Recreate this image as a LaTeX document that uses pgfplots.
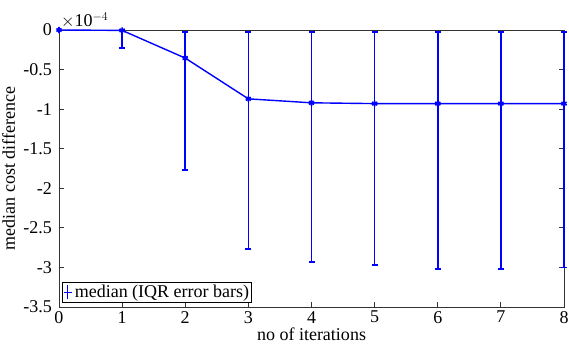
\documentclass[border=0pt]{standalone}
\usepackage{fontspec}
\setmainfont{Liberation Serif}
\usepackage{pgfplots}
\pgfplotsset{compat=1.18}
\definecolor{mblue}{RGB}{0,0,255}
\begin{document}
\fontsize{18}{21}\selectfont
\begin{tikzpicture}
\begin{axis}[
  name=ax,
  scale only axis,
  width=505pt, height=277pt,
  xmin=0, xmax=8, ymin=-3.5, ymax=0,
  xtick={0,1,2,3,4,5,6,7,8},
  ytick={-3.5,-3,-2.5,-2,-1.5,-1,-0.5,0},
  yticklabels={-3.5,-3,-2.5,-2,-1.5,-1,-0.5,0},
  xticklabels={0,1,2,3,4,5,6,7,8},
  tick align=inside,
  tick pos=both,
  major tick length=5pt,
  axis line style={black!80, line width=0.8pt},
  every tick/.style={black!80, line width=0.8pt},
  xlabel={no of iterations},
  ylabel={median cost difference},
  xlabel style={yshift=8pt},
  ylabel style={yshift=-4pt},
  xticklabel style={yshift=2pt},
  yticklabel style={xshift=-1pt},
  tick label style={font=\fontsize{18}{21}\selectfont},
  label style={font=\fontsize{18}{21}\selectfont},
  legend style={draw=black, line width=0.8pt, inner sep=0.5pt, font=\fontsize{18}{21}\selectfont, at={(0.006,0.015)}, anchor=south west, legend cell align=left},
  unbounded coords=jump,
  clip=false,
]
% IQR error bars (upper and lower quartile differences), one segment per iteration
\addplot[forget plot, draw=mblue, line width=1.7pt, mark=-, mark size=3pt,
  mark options={draw=mblue, line width=1.5pt}]
  coordinates {
  (1,0) (1,-0.23) (nan,nan)
  (2,-0.025) (2,-1.77) (nan,nan)
  (3,-0.025) (3,-2.77) (nan,nan)
  (4,-0.025) (4,-2.93) (nan,nan)
  (5,-0.025) (5,-2.97) (nan,nan)
  (6,-0.025) (6,-3.02) (nan,nan)
  (7,-0.025) (7,-3.02) (nan,nan)
  (8,-0.025) (8,-3.00)
  };
\addplot[draw=mblue, line width=1.4pt, mark=asterisk, mark size=3pt,
  mark options={draw=mblue, line width=1.7pt},
  legend image code/.code={
    \draw[mblue, line width=1.3pt] (0cm,0cm) -- (0.3cm,0cm);
    \draw[mblue, line width=1.3pt] (0.15cm,-0.25cm) -- (0.15cm,0.25cm);
  }]
  coordinates {
  (0,0) (1,-0.005) (2,-0.355) (3,-0.87) (4,-0.92)
  (5,-0.93) (6,-0.93) (7,-0.93) (8,-0.93)
  };
\addlegendentry{median (IQR error bars)}
\node[anchor=south west, inner sep=2pt] at (rel axis cs:0,1) {$\times$10$^{-4}$};
\end{axis}
\pgfresetboundingbox
\path[use as bounding box] (ax.south west) ++(-59pt,-47pt) rectangle ([xshift=5pt,yshift=30pt]ax.north east);
\end{tikzpicture}
\end{document}
